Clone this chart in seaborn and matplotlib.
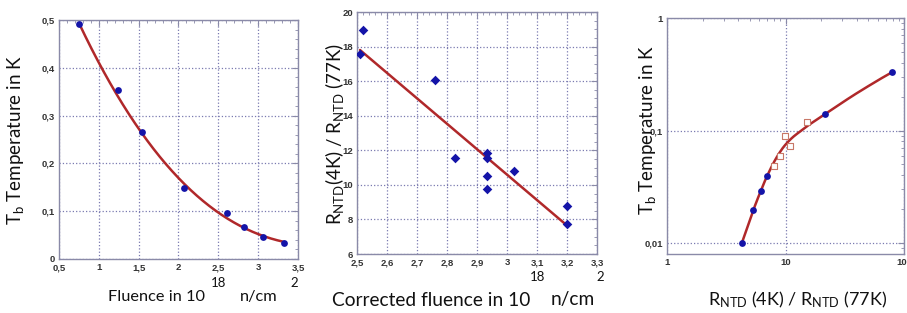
import numpy as np
import pandas as pd
import matplotlib
matplotlib.use("Agg")
import matplotlib.pyplot as plt
import seaborn as sns
from matplotlib.ticker import MultipleLocator, FixedLocator, FixedFormatter, LogLocator, NullFormatter

# ---------------- data ----------------
# Panel 1: Tb vs fluence
p1_x = [0.755, 1.24, 1.54, 2.065, 2.61, 2.82, 3.06, 3.33]
p1_y = [0.491, 0.353, 0.266, 0.148, 0.096, 0.066, 0.047, 0.033]
# fitted curve
p1_curve_x = [0.755, 1.0, 1.25, 1.39, 1.55, 1.79, 2.0, 2.25, 2.5, 2.75, 3.0, 3.33]
p1_curve_y = [0.491, 0.405, 0.350, 0.300, 0.264, 0.200, 0.163, 0.131, 0.100, 0.075, 0.052, 0.034]

# Panel 2: resistance ratio vs corrected fluence
p2_x = [2.509, 2.519, 2.759, 2.828, 2.934, 2.934, 2.934, 2.934, 3.022, 3.200, 3.200]
p2_y = [17.59, 18.94, 16.05, 11.58, 11.86, 11.56, 10.50, 9.75, 10.78, 8.79, 7.73]
p2_line_x = [2.51, 3.20]
p2_line_y = [17.8, 7.65]

# Panel 3: Tb vs resistance ratio (log-log)
p3_fill_x = [4.28, 5.36, 6.19, 6.95, 21.4, 79.2]
p3_fill_y = [0.010, 0.0197, 0.0288, 0.0398, 0.140, 0.330]
p3_open_x = [7.97, 8.96, 9.94, 10.9, 15.1]
p3_open_y = [0.0484, 0.0597, 0.0903, 0.0730, 0.1195]
p3_curve_x = [4.28, 5.36, 6.19, 6.95, 8.0, 9.0, 10.0, 11.5, 13.6, 16.0, 21.4, 30.0, 40.0, 60.0, 79.2]
p3_curve_y = [0.010, 0.0197, 0.0291, 0.0389, 0.0525, 0.0646, 0.075, 0.0871, 0.100, 0.1135, 0.139, 0.1766, 0.2148, 0.2786, 0.3296]

# tick labels
p1_xticks = [0.5, 1, 1.5, 2, 2.5, 3, 3.5]
p1_xlabels = ["0,5", "1", "1,5", "2", "2,5", "3", "3,5"]
p1_yticks = [0, 0.1, 0.2, 0.3, 0.4, 0.5]
p1_ylabels = ["0", "0,1", "0,2", "0,3", "0,4", "0,5"]
p2_xticks = [2.5, 2.6, 2.7, 2.8, 2.9, 3.0, 3.1, 3.2, 3.3]
p2_xlabels = ["2,5", "2,6", "2,7", "2,8", "2,9", "3", "3,1", "3,2", "3,3"]
p2_yticks = [6, 8, 10, 12, 14, 16, 18, 20]
p2_ylabels = ["6", "8", "10", "12", "14", "16", "18", "20"]
p3_xticks = [1, 10, 100]
p3_xlabels = ["1", "10", "100"]
p3_yticks = [0.01, 0.1, 1]
p3_ylabels = ["0,01", "0,1", "1"]

# ---------------- style ----------------
sns.set_theme(style="white")
plt.rcParams["font.family"] = ["Lato", "DejaVu Sans"]
plt.rcParams["mathtext.fontset"] = "custom"
plt.rcParams["mathtext.rm"] = "Lato"
plt.rcParams["mathtext.it"] = "Lato:italic"
plt.rcParams["mathtext.bf"] = "Lato:bold"

BLUE = "#1414a8"
RED = "#b0282a"
SQ = "#c87868"
SPINE = "#8a8aa8"
GRID = "#7a7ab0"
TICKC = "#333333"

fig = plt.figure(figsize=(9.07, 3.13), dpi=100)
W, H = 907.0, 313.0


def add_ax(l, r, t, b):
    return fig.add_axes([l / W, (H - b) / H, (r - l) / W, (b - t) / H])


ax1 = add_ax(59, 298, 20, 259)
ax2 = add_ax(357, 597, 12, 254)
ax3 = add_ax(667, 904, 18, 254)


def catmull_rom(xs, ys, n=24):
    """Smooth pass through read curve points (for drawing only)."""
    P = np.column_stack([xs, ys]).astype(float)
    P = np.vstack([2 * P[0] - P[1], P, 2 * P[-1] - P[-2]])
    out = []
    t = np.linspace(0, 1, n, endpoint=False)[:, None]
    for i in range(1, len(P) - 2):
        p0, p1, p2, p3 = P[i - 1], P[i], P[i + 1], P[i + 2]
        seg = 0.5 * ((2 * p1) + (-p0 + p2) * t + (2 * p0 - 5 * p1 + 4 * p2 - p3) * t ** 2
                     + (-p0 + 3 * p1 - 3 * p2 + p3) * t ** 3)
        out.append(seg)
    out.append(P[-2][None, :])
    out = np.vstack(out)
    return out[:, 0], out[:, 1]


def style_axes(ax):
    for s in ax.spines.values():
        s.set_color(SPINE)
        s.set_linewidth(1.0)
    ax.tick_params(which="both", direction="in", top=True, right=True,
                   color=SPINE, labelcolor=TICKC, labelsize=6.8, pad=3)
    ax.tick_params(which="major", length=4, width=0.8)
    ax.tick_params(which="minor", length=2, width=0.6)
    for lab in ax.get_xticklabels() + ax.get_yticklabels():
        lab.set_fontweight("bold")
        lab.set_fontfamily("Liberation Sans")
    ax.set_xlabel("")
    ax.set_ylabel("")


# ---- Panel 1 ----
df1 = pd.DataFrame({"x": p1_x, "y": p1_y})
coef1 = np.polyfit(p1_curve_x, p1_curve_y, 3)
xx1 = np.linspace(p1_curve_x[0], p1_curve_x[-1], 200)
dc1 = pd.DataFrame({"x": xx1, "y": np.polyval(coef1, xx1)})
sns.lineplot(data=dc1, x="x", y="y", ax=ax1, color=RED, lw=1.8, sort=False, zorder=3)
sns.scatterplot(data=df1, x="x", y="y", ax=ax1, color=BLUE, s=24, marker="o",
                edgecolor=BLUE, linewidth=0, zorder=4)
ax1.set_xlim(0.5, 3.5)
ax1.set_ylim(0, 0.5)
ax1.xaxis.set_major_locator(FixedLocator(p1_xticks))
ax1.xaxis.set_major_formatter(FixedFormatter(p1_xlabels))
ax1.yaxis.set_major_locator(FixedLocator(p1_yticks))
ax1.yaxis.set_major_formatter(FixedFormatter(p1_ylabels))
ax1.xaxis.set_minor_locator(MultipleLocator(0.1))
ax1.yaxis.set_minor_locator(MultipleLocator(0.02))
ax1.grid(True, which="major", color=GRID, ls=":", lw=0.9)
style_axes(ax1)

# ---- Panel 2 ----
df2 = pd.DataFrame({"x": p2_x, "y": p2_y})
dl2 = pd.DataFrame({"x": p2_line_x, "y": p2_line_y})
sns.lineplot(data=dl2, x="x", y="y", ax=ax2, color=RED, lw=1.8, sort=False, zorder=3)
sns.scatterplot(data=df2, x="x", y="y", ax=ax2, color=BLUE, s=24, marker="D",
                edgecolor=BLUE, linewidth=0, zorder=4)
ax2.set_xlim(2.5, 3.3)
ax2.set_ylim(6, 20)
ax2.xaxis.set_major_locator(FixedLocator(p2_xticks))
ax2.xaxis.set_major_formatter(FixedFormatter(p2_xlabels))
ax2.yaxis.set_major_locator(FixedLocator(p2_yticks))
ax2.yaxis.set_major_formatter(FixedFormatter(p2_ylabels))
ax2.xaxis.set_minor_locator(MultipleLocator(0.02))
ax2.yaxis.set_minor_locator(MultipleLocator(0.5))
ax2.grid(True, which="major", color=GRID, ls=":", lw=0.9)
style_axes(ax2)

# ---- Panel 3 ----
ax3.set_xscale("log")
ax3.set_yscale("log")
df3f = pd.DataFrame({"x": p3_fill_x, "y": p3_fill_y})
df3o = pd.DataFrame({"x": p3_open_x, "y": p3_open_y})
lx, ly = catmull_rom(np.log10(p3_curve_x), np.log10(p3_curve_y))
dc3 = pd.DataFrame({"x": 10 ** lx, "y": 10 ** ly})
sns.lineplot(data=dc3, x="x", y="y", ax=ax3, color=RED, lw=1.8, sort=False, zorder=3)
sns.scatterplot(data=df3f, x="x", y="y", ax=ax3, color=BLUE, s=24, marker="o",
                edgecolor=BLUE, linewidth=0, zorder=4)
sns.scatterplot(data=df3o, x="x", y="y", ax=ax3, marker="s", s=20,
                facecolor="white", edgecolor=SQ, linewidth=0.8, zorder=5)
ax3.set_xlim(1, 100)
ax3.set_ylim(0.008, 1)
ax3.xaxis.set_major_locator(FixedLocator(p3_xticks))
ax3.xaxis.set_major_formatter(FixedFormatter(p3_xlabels))
ax3.yaxis.set_major_locator(FixedLocator(p3_yticks))
ax3.yaxis.set_major_formatter(FixedFormatter(p3_ylabels))
ax3.xaxis.set_minor_locator(LogLocator(base=10, subs=np.arange(2, 10), numticks=20))
ax3.yaxis.set_minor_locator(LogLocator(base=10, subs=np.arange(2, 10), numticks=20))
ax3.xaxis.set_minor_formatter(NullFormatter())
ax3.yaxis.set_minor_formatter(NullFormatter())
ax3.grid(True, which="major", color=GRID, ls=":", lw=0.9)
style_axes(ax3)

# ---------------- labels ----------------
TXT = "#111111"
YL = dict(fontsize=13.5, color=TXT, rotation=90, ha="center", va="center")
SUP = dict(fontsize=9.5, color=TXT, ha="center", va="center")


def ftext(x, y, s, **kw):
    fig.text(x / W, 1 - y / H, s, **kw)


# Y labels
ftext(16, 140, r"T$_{\mathrm{b}}$ Temperature in K", **YL)
ftext(334, 134, r"R$_{\mathrm{NTD}}$(4K) / R$_{\mathrm{NTD}}$ (77K)", **YL)
ftext(647, 130, r"T$_{\mathrm{b}}$ Temperature in K", **YL)

# X labels panel 1
ftext(108, 297, "Fluence in 10", ha="left", va="center", fontsize=11.8, color=TXT)
ftext(240, 297, "n/cm", ha="left", va="center", fontsize=11.8, color=TXT)
ftext(219, 283, "18", **SUP)
ftext(294, 283, "2", **SUP)

# X labels panel 2
ftext(332, 300, "Corrected fluence in 10", ha="left", va="center", fontsize=13.8, color=TXT)
ftext(551, 300, "n/cm", ha="left", va="center", fontsize=13.8, color=TXT)
ftext(538, 277, "18", **SUP)
ftext(600, 277, "2", **SUP)

# X label panel 3
ftext(798, 300, r"R$_{\mathrm{NTD}}$ (4K) / R$_{\mathrm{NTD}}$ (77K)", ha="center", va="center",
      fontsize=13, color=TXT)

fig.savefig("out.png", dpi=100)
